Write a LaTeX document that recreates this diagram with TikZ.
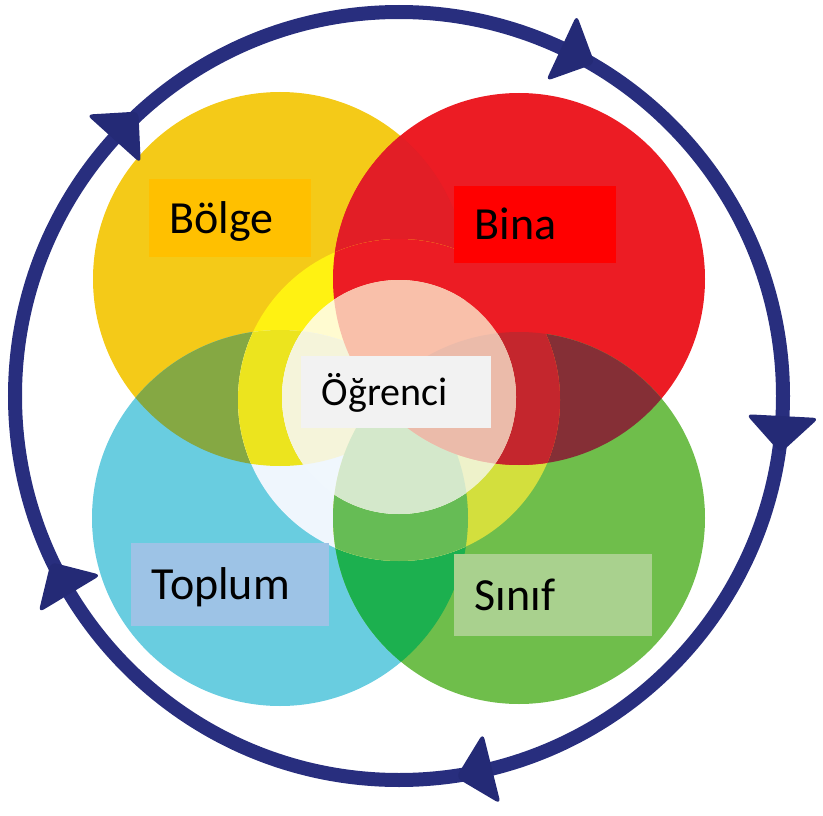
\documentclass[tikz,border=0pt]{standalone}
\usepackage{fontspec}
\setmainfont{Carlito}

\definecolor{navy}{RGB}{40,46,126}
\definecolor{tipnavy}{RGB}{36,42,118}
%Outer colours
\definecolor{outY}{HTML}{F4CA18}
\definecolor{outR}{HTML}{EC1C24}
\definecolor{outYR}{HTML}{E21E26}
\definecolor{outB}{HTML}{69CDE0}
\definecolor{outYB}{HTML}{85A843}
\definecolor{outG}{HTML}{6FBE4B}
\definecolor{outBG}{HTML}{1CB04F}
\definecolor{outRG}{HTML}{852F36}
%Ring colours
\definecolor{ringY}{HTML}{FFF212}
\definecolor{ringYB}{HTML}{ECE41E}
\definecolor{ringB}{HTML}{EFF6FD}
\definecolor{ringG}{HTML}{D3DF3D}
\definecolor{ringBG}{HTML}{66BC55}
\definecolor{ringR}{HTML}{EC1C24}
\definecolor{ringRG}{HTML}{C4262D}
%Core colours
\definecolor{coreY}{HTML}{FFFBD0}
\definecolor{coreYB}{HTML}{F5F4DA}
\definecolor{coreB}{HTML}{F0F7FD}
\definecolor{coreG}{HTML}{EEF2CA}
\definecolor{coreBG}{HTML}{D4E8CB}
\definecolor{coreR}{HTML}{F9C0AA}
\definecolor{coreRG}{HTML}{EBBBAA}
%Label boxes
\definecolor{bolgebox}{HTML}{FFC000}
\definecolor{binabox}{HTML}{FF0000}
\definecolor{toplumbox}{HTML}{9DC3E6}
\definecolor{sinifbox}{HTML}{A9D18E}
\definecolor{ogrbox}{HTML}{F2F2F2}

\tikzset{
  labelbox/.style={rectangle, anchor=north west, inner xsep=20.5pt, inner ysep=0pt,
    align=left, text depth=0pt, text height=30pt,
    font=\fontsize{46}{50}\selectfont},
  ring/.style={draw=navy, line width=14pt},
  tipfill/.style={fill=tipnavy, rounded corners=6pt}
}

\begin{document}
\begin{tikzpicture}[x=1pt,y=1pt]
\useasboundingbox (0,0) rectangle (823,-816);

%Centres
\coordinate (c_bolge) at (280,-279);
\coordinate (c_bina) at (519,-279);
\coordinate (c_toplum) at (280,-518);
\coordinate (c_sinif) at (519,-518);
\coordinate (c_core) at (399,-400);
\coordinate (c_ogr) at (399,-397);
\coordinate (hub) at (399,-396);

\def\Yc{(c_bolge) circle (187)}
\def\Rc{(c_bina) circle (186)}
\def\Bc{(c_toplum) circle (188)}
\def\Gc{(c_sinif) circle (186)}
\def\Ic{(c_core) circle (161)}
\def\Wc{(c_ogr) circle (117)}

%Outer circles
\fill[outY] \Yc;
\fill[outR] \Rc;
\begin{scope} \clip \Yc; \fill[outYR] \Rc; \end{scope}
\fill[outB] \Bc;
\begin{scope} \clip \Yc; \fill[outYB] \Bc; \end{scope}
\fill[outG] \Gc;
\begin{scope} \clip \Bc; \fill[outBG] \Gc; \end{scope}
\begin{scope} \clip \Rc; \fill[outRG] \Gc; \end{scope}

%Yellow ring
\begin{scope}
  \clip \Ic;
  \fill[ringY] \Yc;
  \fill[ringB] \Bc;
  \begin{scope} \clip \Yc; \fill[ringYB] \Bc; \end{scope}
  \fill[ringG] \Gc;
  \begin{scope} \clip \Bc; \fill[ringBG] \Gc; \end{scope}
  \fill[ringR] \Rc;
  \begin{scope} \clip \Gc; \fill[ringRG] \Rc; \end{scope}
\end{scope}

%White core
\begin{scope}
  \clip \Wc;
  \fill[coreY] \Yc;
  \fill[coreB] \Bc;
  \begin{scope} \clip \Yc; \fill[coreYB] \Bc; \end{scope}
  \fill[coreG] \Gc;
  \begin{scope} \clip \Bc; \fill[coreBG] \Gc; \end{scope}
  \fill[coreR] \Rc;
  \begin{scope} \clip \Gc; \fill[coreRG] \Rc; \end{scope}
\end{scope}

%Labels
\node[labelbox, fill=bolgebox, minimum width=162pt, minimum height=78pt, text width=121pt] (l_bolge) at (149,-179) {Bölge};
\node[labelbox, fill=binabox, minimum width=162pt, minimum height=77pt, text width=121pt] (l_bina) at (454,-186) {Bina};
\node[labelbox, fill=toplumbox, minimum width=198pt, minimum height=83pt, text width=157pt] (l_toplum) at (131,-543) {Toplum};
\node[labelbox, fill=sinifbox, minimum width=198pt, minimum height=82pt, text width=157pt] (l_sinif) at (454,-554) {Sınıf};
\node[labelbox, fill=ogrbox, minimum width=190pt, minimum height=72pt, text width=149pt,
      text height=26pt, font=\fontsize{40}{44}\selectfont] (l_ogr) at (301,-356) {Öğrenci};

%Cycle
\draw[ring] (hub) circle (384);
\foreach \a in {3,76,149,222,295}
  \fill[tipfill, shift={(hub)}, rotate=-\a] (347.5,0) -- (420.5,0) -- (384,-37) -- cycle;

\end{tikzpicture}
\end{document}
